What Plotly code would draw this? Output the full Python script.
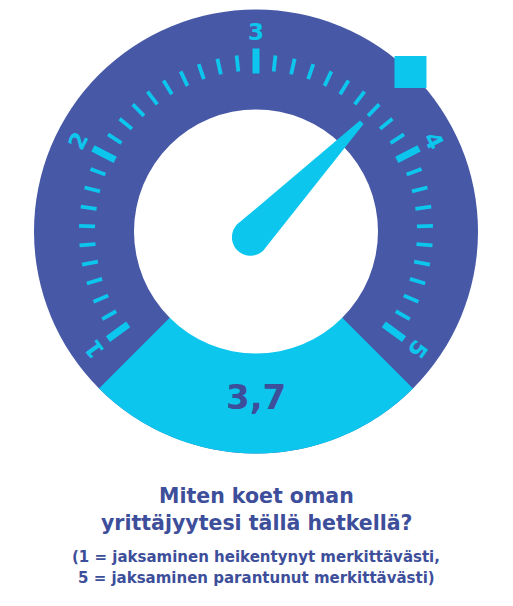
import numpy as np
import plotly.graph_objects as go

# ---- data ----
scale_min = 1
scale_max = 5
major_values = [1, 2, 3, 4, 5]
major_labels = ["1", "2", "3", "4", "5"]
minor_step = 0.1
value = 3.7
value_label = "3,7"
title_lines = ["Miten koet oman", "yrittäjyytesi tällä hetkellä?"]
subtitle_lines = ["(1 = jaksaminen heikentynyt merkittävästi,",
                  "5 = jaksaminen parantunut merkittävästi)"]

# ---- layout / style ----
W, H = 513, 606
CX, CY = 256, 231.5
R_OUT, R_IN = 222, 122
DEG_PER_UNIT = 63.0
DARK = "#4759A6"
CYAN = "#0DC6EE"
TEXT = "#3D4E9A"
FONT = "DejaVu Sans"

mid = (scale_min + scale_max) / 2


def ang(v):
    return 90 + (mid - v) * DEG_PER_UNIT


def pt(r, a, cx=CX, cy=CY):
    t = np.radians(a)
    return cx + r * np.cos(t), cy - r * np.sin(t)


shapes = []
# outer ring
shapes.append(dict(type="circle", xref="x", yref="y", x0=CX - R_OUT, x1=CX + R_OUT,
                   y0=CY - R_OUT, y1=CY + R_OUT, fillcolor=DARK, line=dict(width=0), layer="below"))
# cyan bottom sector
angs = np.linspace(225, 315, 80)
pts = [pt(R_OUT, a) for a in angs]
path = f"M {CX},{CY} " + " ".join(f"L {x:.2f},{y:.2f}" for x, y in pts) + " Z"
shapes.append(dict(type="path", xref="x", yref="y", path=path, fillcolor=CYAN, line=dict(width=0), layer="below"))
# inner white circle
shapes.append(dict(type="circle", xref="x", yref="y", x0=CX - R_IN, x1=CX + R_IN,
                   y0=CY - R_IN, y1=CY + R_IN, fillcolor="white", line=dict(width=0), layer="below"))

# ticks
n = int(round((scale_max - scale_min) / minor_step))
for i in range(n + 1):
    v = scale_min + i * minor_step
    a = ang(v)
    is_major = abs(v - round(v)) < 1e-6
    r0, r1, w = (158, 183, 7) if is_major else (161, 177, 3.8)
    x0, y0 = pt(r0, a)
    x1, y1 = pt(r1, a)
    shapes.append(dict(type="line", xref="x", yref="y", x0=x0, y0=y0, x1=x1, y1=y1,
                       line=dict(color=CYAN, width=w)))

# needle
a = ang(value)
t = np.radians(a)
u = np.array([np.cos(t), -np.sin(t)])
p = np.array([np.sin(t), np.cos(t)])
C = np.array([CX, CY])
T = C + 152 * u
B = C - 8 * u
RB = 18.5
npts = [T + 2.5 * p]
for phi in np.linspace(0, np.pi, 40):
    npts.append(B + RB * (p * np.cos(phi) - u * np.sin(phi)))
npts.append(T - 2.5 * p)
path = "M " + " L ".join(f"{q[0]:.2f},{q[1]:.2f}" for q in npts) + " Z"
shapes.append(dict(type="path", xref="x", yref="y", path=path, fillcolor=CYAN, line=dict(width=0)))

# square marker at value angle on outer edge
sx, sy = pt(R_OUT, a)
S = 16
shapes.append(dict(type="rect", xref="x", yref="y", x0=sx - S, x1=sx + S, y0=sy - S, y1=sy + S,
                   fillcolor=CYAN, line=dict(width=0)))

annotations = []
for v, lab in zip(major_values, major_labels):
    aa = ang(v)
    x, y = pt(200, aa)
    annotations.append(dict(x=x, y=y, xref="x", yref="y", text=f"<b>{lab}</b>", showarrow=False,
                            textangle=90 - aa, font=dict(family=FONT, size=23, color=CYAN),
                            xanchor="center", yanchor="middle"))

annotations.append(dict(x=CX, y=397, xref="x", yref="y", text=f"<b>{value_label}</b>", showarrow=False,
                        font=dict(family=FONT, size=34, color=TEXT), xanchor="center", yanchor="middle"))

for i, line in enumerate(title_lines):
    annotations.append(dict(x=CX, y=496 + i * 27, xref="x", yref="y", text=f"<b>{line}</b>", showarrow=False,
                            font=dict(family=FONT, size=20.5, color=TEXT), xanchor="center", yanchor="middle"))
for i, line in enumerate(subtitle_lines):
    annotations.append(dict(x=CX, y=557 + i * 21, xref="x", yref="y", text=f"<b>{line}</b>", showarrow=False,
                            font=dict(family=FONT, size=15, color=TEXT), xanchor="center", yanchor="middle"))

fig = go.Figure()
fig.add_trace(go.Scatter(x=[None], y=[None], showlegend=False, hoverinfo="skip"))
fig.update_layout(
    width=W, height=H, margin=dict(l=0, r=0, t=0, b=0),
    paper_bgcolor="white", plot_bgcolor="white",
    xaxis=dict(range=[0, W], visible=False, fixedrange=True),
    yaxis=dict(range=[H, 0], visible=False, fixedrange=True),
    shapes=shapes, annotations=annotations, showlegend=False,
)
fig.write_html("out.html", config={"displayModeBar": False},
               post_script="document.body.style.margin='0px';document.body.style.overflow='hidden';")
